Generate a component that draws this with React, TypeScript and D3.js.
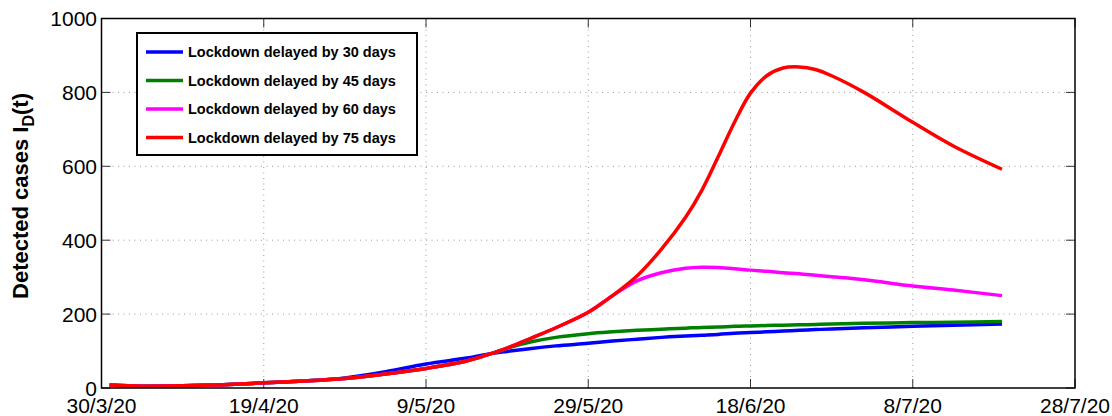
import React from "react";
import * as d3 from "d3";

// Days counted from 30/3/2020
const days = [1, 5, 10, 15, 20, 25, 30, 35, 40, 45, 48, 50, 53, 56, 60, 63, 66, 69, 72, 74, 76, 78, 80, 82, 84, 86, 88, 90, 94, 100, 105, 111];

const delay30 = [8, 5, 6, 9, 14, 19, 27, 44, 65, 81, 93, 99, 107, 114, 121, 127, 132, 137, 141, 143, 145, 148, 150, 152, 154, 156, 158, 160, 163, 167, 170, 173];
const delay45 = [8, 5, 6, 9, 14, 19, 26, 38, 53, 73, 93, 108, 125, 137, 147, 152, 156, 159, 162, 164, 165, 167, 168, 169, 170, 171, 172, 173, 175, 177, 178, 180];
const delay60 = [8, 5, 6, 9, 14, 19, 26, 38, 53, 73, 93, 108, 135, 163, 205, 250, 290, 312, 324, 327, 326, 323, 319, 316, 312, 309, 305, 301, 293, 276, 265, 250];
const delay75 = [8, 5, 6, 9, 14, 19, 26, 38, 53, 73, 93, 108, 135, 163, 205, 250, 303, 375, 462, 535, 625, 718, 798, 845, 866, 869, 862, 845, 800, 719, 655, 592];

const seriesNames = [
  "Lockdown delayed by 30 days",
  "Lockdown delayed by 45 days",
  "Lockdown delayed by 60 days",
  "Lockdown delayed by 75 days",
];
const seriesColors = ["#0000ff", "#008000", "#ff00ff", "#ff0000"];
const seriesValues = [delay30, delay45, delay60, delay75];

const startDate = new Date(2020, 2, 30);
const xTickDays = [0, 20, 40, 60, 80, 100, 120];
const yTicks = [0, 200, 400, 600, 800, 1000];

const W = 1112;
const H = 416;
const left = 101.5;
const right = 1075;
const top = 18.5;
const bottom = 388;

const FONT = "'Liberation Sans', Arial, Helvetica, sans-serif";

export default function App() {
  const x = d3.scaleLinear().domain([0, 120]).range([left, right]);
  const y = d3.scaleLinear().domain([0, 1000]).range([bottom, top]);
  const fmt = d3.timeFormat("%-d/%-m/%y");
  const line = d3
    .line<[number, number]>()
    .x((d) => x(d[0]))
    .y((d) => y(d[1]))
    .curve(d3.curveCatmullRom.alpha(0.5));

  const tickLen = 9;
  const legX = 137;
  const legY = 33;
  const legW = 280;
  const legH = 122;
  const rowGap = 28.5;

  return (
    <svg
      width={W}
      height={H}
      style={{ position: "absolute", left: 0, top: 0, background: "#fff" }}
      fontFamily={FONT}
    >
      <rect x={0} y={0} width={W} height={H} fill="#fff" />
      {/* grid */}
      <g stroke="#999" strokeWidth={1} strokeDasharray="1,4.5">
        {xTickDays.slice(1, -1).map((d) => (
          <line key={"gx" + d} x1={x(d)} x2={x(d)} y1={top} y2={bottom} />
        ))}
        {yTicks.slice(1, -1).map((v) => (
          <line key={"gy" + v} x1={left} x2={right} y1={y(v)} y2={y(v)} />
        ))}
      </g>
      {/* tick marks on all four sides */}
      <g stroke="#333" strokeWidth={1}>
        {xTickDays.map((d) => (
          <g key={"tx" + d}>
            <line x1={x(d)} x2={x(d)} y1={bottom} y2={bottom - tickLen} />
            <line x1={x(d)} x2={x(d)} y1={top} y2={top + tickLen} />
          </g>
        ))}
        {yTicks.map((v) => (
          <g key={"ty" + v}>
            <line x1={left} x2={left + tickLen} y1={y(v)} y2={y(v)} />
            <line x1={right} x2={right - tickLen} y1={y(v)} y2={y(v)} />
          </g>
        ))}
      </g>
      {/* series */}
      <g fill="none" strokeWidth={3.5} strokeLinejoin="round">
        {seriesValues.map((vals, i) => (
          <path
            key={seriesNames[i]}
            d={line(days.map((d, j) => [d, vals[j]] as [number, number])) || ""}
            stroke={seriesColors[i]}
          />
        ))}
      </g>
      {/* axes box */}
      <rect
        x={left}
        y={top}
        width={right - left}
        height={bottom - top}
        fill="none"
        stroke="#000"
        strokeWidth={1.5}
      />
      {/* tick labels */}
      <g fontSize={21} fill="#000">
        {xTickDays.map((d) => (
          <text key={"lx" + d} x={x(d)} y={412.5} textAnchor="middle">
            {fmt(d3.timeDay.offset(startDate, d))}
          </text>
        ))}
        {yTicks.map((v) => (
          <text key={"ly" + v} x={97} y={y(v)} dy="0.36em" textAnchor="end">
            {v}
          </text>
        ))}
      </g>
      {/* y label */}
      <text
        transform="translate(28,196) rotate(-90)"
        textAnchor="middle"
        fontSize={22}
        fontWeight="bold"
        fill="#000"
      >
        Detected cases I
        <tspan fontSize={16} dy={6}>
          D
        </tspan>
        <tspan dy={-6}>(t)</tspan>
      </text>
      {/* legend */}
      <g>
        <rect
          x={legX}
          y={legY}
          width={legW}
          height={legH}
          fill="#fff"
          stroke="#000"
          strokeWidth={2}
        />
        {seriesNames.map((name, i) => {
          const ry = legY + 19 + i * rowGap;
          return (
            <g key={"leg" + i}>
              <line
                x1={legX + 9}
                x2={legX + 46}
                y1={ry}
                y2={ry}
                stroke={seriesColors[i]}
                strokeWidth={3.5}
              />
              <text
                x={legX + 51}
                y={ry}
                dy="0.35em"
                fontSize={14.5}
                fontWeight="bold"
                fill="#000"
              >
                {name}
              </text>
            </g>
          );
        })}
      </g>
    </svg>
  );
}
